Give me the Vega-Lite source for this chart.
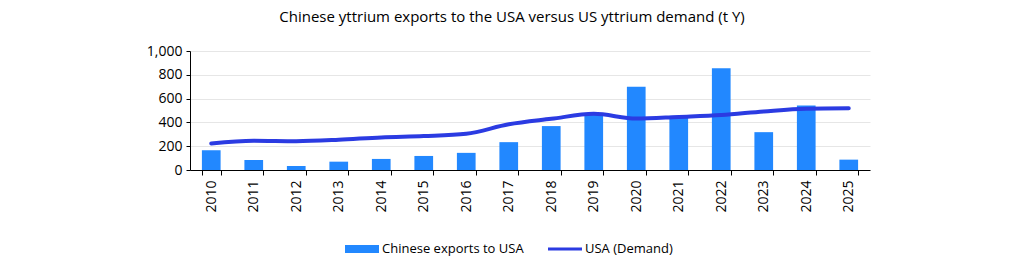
{
  "$schema": "https://vega.github.io/schema/vega-lite/v6.json",
  "autosize": "none",
  "width": 680,
  "height": 119,
  "padding": {"left": 190, "top": 51, "right": 154, "bottom": 86},
  "background": "white",
  "title": {
    "text": "Chinese yttrium exports to the USA versus US yttrium demand (t Y)",
    "font": "Open Sans",
    "fontSize": 15,
    "fontWeight": "normal",
    "color": "#000000",
    "anchor": "middle",
    "dx": -18,
    "offset": 19
  },
  "data": {
    "values": [
      {"year": "2010", "exports": 166, "demand": 222},
      {"year": "2011", "exports": 85, "demand": 246},
      {"year": "2012", "exports": 34, "demand": 242},
      {"year": "2013", "exports": 70, "demand": 254},
      {"year": "2014", "exports": 93, "demand": 274},
      {"year": "2015", "exports": 118, "demand": 285},
      {"year": "2016", "exports": 144, "demand": 304},
      {"year": "2017", "exports": 234, "demand": 384},
      {"year": "2018", "exports": 369, "demand": 430},
      {"year": "2019", "exports": 473, "demand": 472},
      {"year": "2020", "exports": 699, "demand": 432},
      {"year": "2021", "exports": 456, "demand": 446},
      {"year": "2022", "exports": 854, "demand": 462},
      {"year": "2023", "exports": 318, "demand": 492},
      {"year": "2024", "exports": 541, "demand": 515},
      {"year": "2025", "exports": 87, "demand": 519}
    ]
  },
  "encoding": {
    "x": {
      "field": "year",
      "type": "ordinal",
      "scale": {"paddingInner": 0.56, "paddingOuter": 0.28},
      "axis": {
        "title": null,
        "labelAngle": -90,
        "labelFont": "Open Sans",
        "labelFontSize": 14,
        "labelColor": "#000000",
        "labelPadding": 5,
        "domainColor": "#000000",
        "tickColor": "#000000",
        "tickSize": 5,
        "tickBand": "extent",
        "grid": false
      }
    },
    "color": {
      "type": "nominal",
      "scale": {
        "domain": ["Chinese exports to USA", "USA (Demand)"],
        "range": ["#2288ff", "#2b3be2"]
      },
      "legend": {
        "title": null,
        "orient": "none",
        "direction": "horizontal",
        "legendX": 155,
        "legendY": 181,
        "labelFont": "Open Sans",
        "labelFontSize": 13,
        "labelColor": "#000000",
        "symbolSize": 1156,
        "columnPadding": 24,
        "labelOffset": 3,
        "encode": {
          "symbols": {
            "update": {
              "shape": {"signal": "datum.value === 'USA (Demand)' ? 'M-1,-0.09H1V0.09H-1Z' : 'M-1,-0.24H1V0.24H-1Z'"},
              "fill": {"scale": "color", "field": "value"},
              "stroke": {"value": "transparent"},
              "strokeWidth": {"value": 0},
              "opacity": {"value": 1},
              "fillOpacity": {"value": 1}
            }
          }
        }
      }
    }
  },
  "layer": [
    {
      "mark": {"type": "bar"},
      "encoding": {
        "y": {
          "field": "exports",
          "type": "quantitative",
          "scale": {"domain": [0, 1000]},
          "axis": {
            "title": null,
            "values": [0, 200, 400, 600, 800, 1000],
            "format": ",.0f",
            "labelOverlap": false,
            "labelFont": "Open Sans",
            "labelFontSize": 14,
            "labelColor": "#000000",
            "labelPadding": 4,
            "domainColor": "#000000",
            "tickColor": "#000000",
            "tickSize": 4,
            "gridColor": "#e6e6e6",
            "gridWidth": 1
          }
        },
        "color": {"datum": "Chinese exports to USA"}
      }
    },
    {
      "mark": {"type": "line", "interpolate": "monotone", "strokeWidth": 4, "strokeCap": "round"},
      "encoding": {
        "y": {
          "field": "demand",
          "type": "quantitative",
          "scale": {"domain": [0, 1000]},
          "axis": {
            "title": null,
            "values": [0, 200, 400, 600, 800, 1000],
            "format": ",.0f",
            "labelOverlap": false,
            "labelFont": "Open Sans",
            "labelFontSize": 14,
            "labelColor": "#000000",
            "labelPadding": 4,
            "domainColor": "#000000",
            "tickColor": "#000000",
            "tickSize": 4,
            "gridColor": "#e6e6e6",
            "gridWidth": 1
          }
        },
        "color": {"datum": "USA (Demand)"}
      }
    }
  ],
  "config": {
    "view": {"stroke": null},
    "axisY": {"labelOverlap": false}
  }
}
